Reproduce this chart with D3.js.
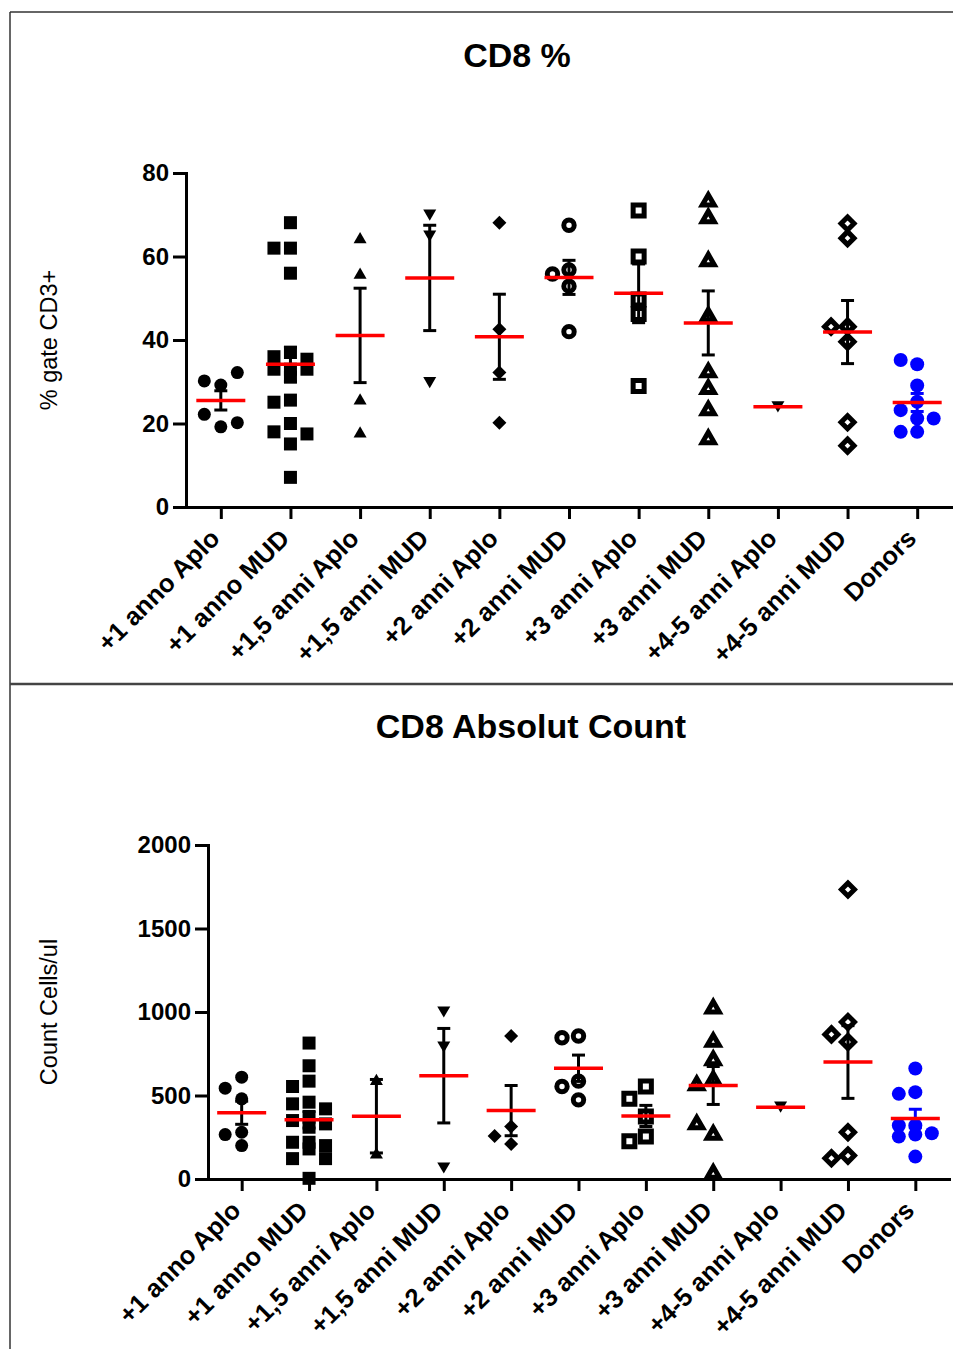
<!DOCTYPE html>
<html>
<head>
<meta charset="utf-8">
<script src="https://cdn.jsdelivr.net/npm/d3@7"></script>
<style>
  body { margin: 0; background: #fff; }
  svg { display: block; font-family: "Liberation Sans", Arial, sans-serif; }
</style>
</head>
<body>
<svg id="chart" width="953" height="1349"></svg>
<script>

var categories = ["+1 anno Aplo", "+1 anno MUD", "+1,5 anni Aplo", "+1,5 anni MUD",
                  "+2 anni Aplo", "+2 anni MUD", "+3 anni Aplo", "+3 anni MUD",
                  "+4-5 anni Aplo", "+4-5 anni MUD", "Donors"];

// marker per group (Prism style)
var markers = ["circle", "square", "triUp", "triDown", "diamond", "circleOpen",
               "squareOpen", "triUpOpen", "triDown", "diamondOpen", "donor"];

// CD8 % (gate CD3+), one array per group
var pctValues = [
    [29.2, 30.2, 32.2, 19.2, 22.2, 20.2],
    [68.1, 62.0, 62.0, 56.0, 37.0, 36.0, 35.4, 33.0, 33.0, 33.0, 31.1, 25.6, 25.1, 20.0, 18.0, 17.5, 15.1, 7.1],
    [64.5, 56.0, 25.9, 18.0],
    [69.9, 64.9, 29.8],
    [68.1, 42.6, 32.2, 20.2],
    [67.5, 56.8, 55.8, 52.9, 42.0],
    [71.0, 60.0, 49.7, 46.2, 29.0],
    [73.9, 69.9, 59.6, 46.4, 33.0, 29.0, 23.9, 17.0],
    [24.0],
    [67.9, 64.4, 39.6, 43.2, 43.2, 20.3, 14.7],
    [34.2, 35.2, 29.1, 25.2, 23.2, 21.2, 21.2, 18.0, 18.0]
];
var pctTicks = [0, 20, 40, 60, 80];

// CD8 absolute count (cells/ul), one array per group
var countValues = [
    [610, 544, 480, 280, 266, 200],
    [814, 678, 586, 554, 460, 450, 420, 370, 350, 330, 310, 220, 220, 200, 180, 122, 122, 4],
    [596, 156],
    [1000, 790, 66],
    [856, 314, 258, 210],
    [856, 846, 586, 554, 474],
    [554, 480, 374, 254, 226],
    [1040, 840, 730, 610, 580, 284, 346, 50],
    [430],
    [1734, 940, 866, 820, 280, 140, 124],
    [662, 520, 510, 320, 320, 274, 266, 254, 134]
];
var countTicks = [0, 500, 1000, 1500, 2000];

var svg = d3.select("#chart");
var BLUE = "#0000ff";

// outer frame
svg.append("line").attr("x1", 10).attr("y1", 12).attr("x2", 953).attr("y2", 12)
    .attr("stroke", "#333").attr("stroke-width", 1.5);
svg.append("line").attr("x1", 10).attr("y1", 12).attr("x2", 10).attr("y2", 1349)
    .attr("stroke", "#333").attr("stroke-width", 1.5);
svg.append("line").attr("x1", 10).attr("y1", 684).attr("x2", 953).attr("y2", 684)
    .attr("stroke", "#444").attr("stroke-width", 2.5);

function markerStyle(kind) {
    var circ = function(r) { return d3.symbol(d3.symbolCircle, Math.PI * r * r)(); };
    switch (kind) {
        case "circle":      return { d: circ(6.5), fill: "#000", stroke: "none", sw: 0 };
        case "square":      return { d: "M-6.5,-6.5h13v13h-13z", fill: "#000", stroke: "none", sw: 0 };
        case "triUp":       return { d: "M0,-5.6L6.5,5.6L-6.5,5.6Z", fill: "#000", stroke: "none", sw: 0 };
        case "triDown":     return { d: "M0,5.6L6.5,-5.6L-6.5,-5.6Z", fill: "#000", stroke: "none", sw: 0 };
        case "diamond":     return { d: "M0,-7L7,0L0,7L-7,0Z", fill: "#000", stroke: "none", sw: 0 };
        case "circleOpen":  return { d: circ(5.2), fill: "#fff", stroke: "#000", sw: 5 };
        case "squareOpen":  return { d: "M-5.5,-5.5h11v11h-11z", fill: "#fff", stroke: "#000", sw: 5 };
        case "triUpOpen":   return { d: "M0,-3.8L6,6.6L-6,6.6Z", fill: "#fff", stroke: "#000", sw: 5 };
        case "diamondOpen": return { d: "M0,-6.5L6.5,0L0,6.5L-6.5,0Z", fill: "#fff", stroke: "#000", sw: 5 };
        case "donor":       return { d: circ(7), fill: BLUE, stroke: "none", sw: 0 };
    }
}

// spread overlapping points sideways (max one column each side), in data order
function spread(vals, y, minGap) {
    var placed = [];
    var slots = [0, -1, 1];
    return vals.map(function(v) {
        var py = y(v);
        var gaps = slots.map(function(s) {
            var gap = d3.min(placed.filter(function(p) { return p.slot === s; }),
                             function(p) { return Math.abs(p.py - py); });
            return gap === undefined ? Infinity : gap;
        });
        var idx = gaps.findIndex(function(gp) { return gp >= minGap; });
        if (idx < 0) idx = d3.maxIndex(gaps);
        var p = { v: v, py: py, slot: slots[idx] };
        placed.push(p);
        return p;
    });
}

function drawPanel(opt) {
    var x = d3.scalePoint().domain(categories).range(opt.xRange).padding(0.5);
    var y = d3.scaleLinear().domain([0, opt.ticks[opt.ticks.length - 1]]).range(opt.yRange);
    var g = svg.append("g");

    // title
    g.append("text")
        .attr("x", opt.titleX).attr("y", opt.titleY)
        .attr("text-anchor", "middle")
        .attr("font-size", 34).attr("font-weight", "bold")
        .text(opt.title);

    // y label
    g.append("text")
        .attr("transform", "translate(57," + ((opt.yRange[0] + opt.yRange[1]) / 2) + ") rotate(-90)")
        .attr("text-anchor", "middle")
        .attr("font-size", 23.5)
        .text(opt.yLabel);

    // axes
    var gy = g.append("g")
        .attr("transform", "translate(" + opt.xRange[0] + ",0)")
        .call(d3.axisLeft(y).tickValues(opt.ticks).tickFormat(d3.format("d"))
              .tickSize(13).tickSizeOuter(0).tickPadding(4));
    var gx = g.append("g")
        .attr("transform", "translate(0," + opt.yRange[0] + ")")
        .call(d3.axisBottom(x).tickSize(12).tickSizeOuter(0));

    [gy, gx].forEach(function(ax) {
        ax.attr("font-family", null).attr("font-size", null);
        ax.select(".domain").attr("stroke", "#000").attr("stroke-width", 3).attr("stroke-linecap", "square");
        ax.selectAll(".tick line").attr("stroke", "#000").attr("stroke-width", 3);
        ax.selectAll(".tick text").attr("fill", "#000").attr("font-weight", "bold");
    });
    gy.selectAll(".tick text").attr("font-size", 24);

    gx.selectAll(".tick text")
        .attr("font-size", 25.5)
        .attr("x", 0).attr("y", 0).attr("dy", 0)
        .attr("transform", "translate(0,33) rotate(-45)")
        .attr("text-anchor", "end");

    // groups
    var groups = g.selectAll("g.grp")
        .data(opt.values)
      .enter()
        .append("g")
        .attr("class", "grp")
        .attr("transform", function(d, i) { return "translate(" + x(categories[i]) + ",0)"; });

    groups.each(function(vals, i) {
        var grp = d3.select(this);
        var st = markerStyle(markers[i]);
        var col = markers[i] === "donor" ? BLUE : "#000";

        grp.selectAll("path.pt")
            .data(spread(vals, y, 13))
          .enter()
            .append("path")
            .attr("class", "pt")
            .attr("d", st.d)
            .attr("transform", function(p) { return "translate(" + (p.slot * 16.5) + "," + p.py + ")"; })
            .attr("fill", st.fill)
            .attr("stroke", st.stroke)
            .attr("stroke-width", st.sw)
            .attr("stroke-linejoin", "miter");

        var m = d3.mean(vals);
        if (vals.length > 1) {
            var sem = d3.deviation(vals) / Math.sqrt(vals.length);
            grp.append("line")
                .attr("x1", 0).attr("x2", 0)
                .attr("y1", y(m - sem)).attr("y2", y(m + sem))
                .attr("stroke", col).attr("stroke-width", 3);
            [m - sem, m + sem].forEach(function(v) {
                grp.append("line")
                    .attr("x1", -6.5).attr("x2", 6.5)
                    .attr("y1", y(v)).attr("y2", y(v))
                    .attr("stroke", col).attr("stroke-width", 3);
            });
        }
        grp.append("line")
            .attr("x1", -24.5).attr("x2", 24.5)
            .attr("y1", y(m)).attr("y2", y(m))
            .attr("stroke", "#ff0000").attr("stroke-width", 3.5);
    });
}

drawPanel({
    title: "CD8 %", titleX: 517, titleY: 67,
    yLabel: "% gate CD3+",
    values: pctValues, ticks: pctTicks,
    xRange: [186, 952], yRange: [507, 173]
});

drawPanel({
    title: "CD8 Absolut Count", titleX: 531, titleY: 738,
    yLabel: "Count Cells/ul",
    values: countValues, ticks: countTicks,
    xRange: [208, 949], yRange: [1179, 845]
});

</script>
</body>
</html>
